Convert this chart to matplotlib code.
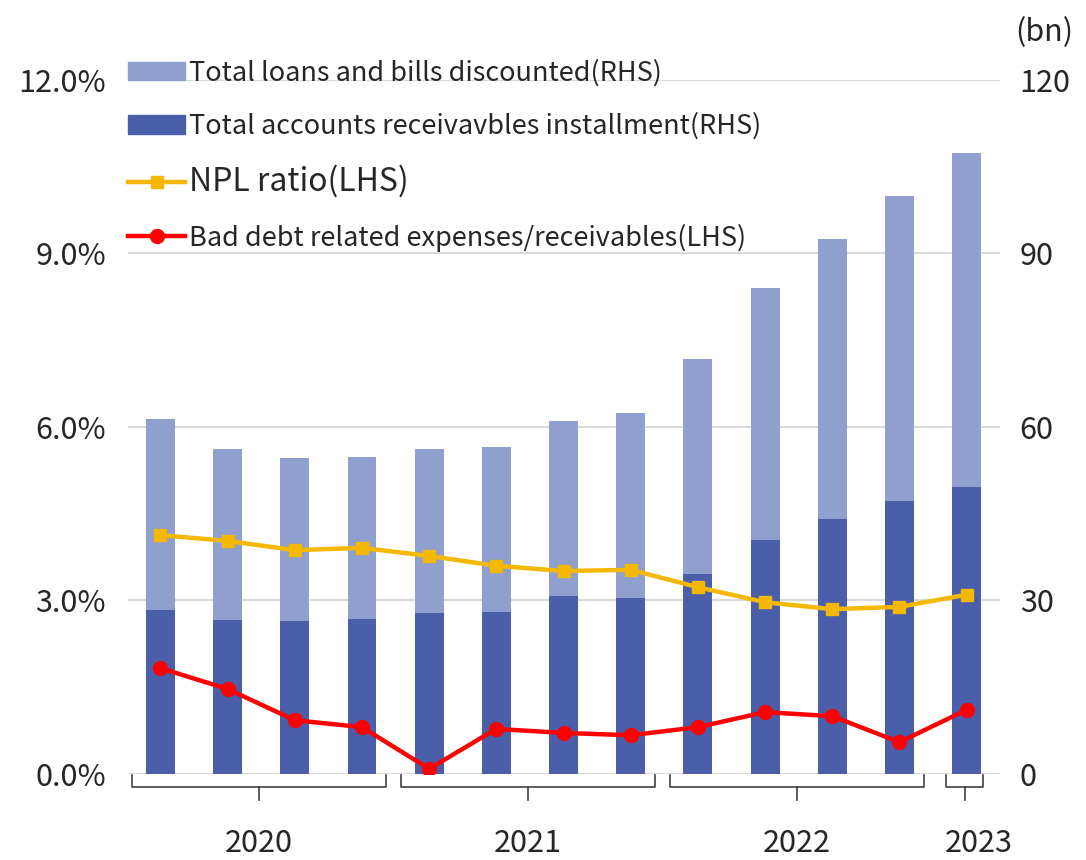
import matplotlib
matplotlib.use("Agg")
import matplotlib.pyplot as plt
import matplotlib.transforms as mtransforms
from matplotlib.patches import Patch
from matplotlib.lines import Line2D
import numpy as np

plt.rcParams['font.family'] = ['Noto Sans CJK JP', 'DejaVu Sans']

### data (13 quarters, 2020Q1 - 2023Q1)
years = ['2020', '2021', '2022', '2023']
year_counts = [4, 4, 4, 1]
installment = [28.4, 26.6, 26.5, 26.8, 27.8, 28.0, 30.8, 30.4, 34.6, 40.5, 44.1, 47.2, 49.6]
total_loans = [61.4, 56.2, 54.6, 54.8, 56.2, 56.5, 61.0, 62.4, 71.8, 84.0, 92.5, 99.9, 107.4]
npl_ratio = [4.13, 4.03, 3.87, 3.91, 3.77, 3.60, 3.51, 3.53, 3.23, 2.97, 2.85, 2.89, 3.10]
bad_debt = [1.83, 1.47, 0.93, 0.81, 0.09, 0.78, 0.71, 0.67, 0.81, 1.07, 1.00, 0.55, 1.11]

labels = ['Total loans and bills discounted(RHS)',
          'Total accounts receivavbles installment(RHS)',
          'NPL ratio(LHS)',
          'Bad debt related expenses/receivables(LHS)']

LIGHT = '#8f9fce'
DARK = '#4a5eaa'
YELLOW = '#f5b800'
RED = '#ff0000'
TXT = '#262626'

x = np.arange(len(installment))
loans_top = np.array(total_loans) - np.array(installment)

fig = plt.figure(figsize=(10.86, 8.6), dpi=100)
ax2 = fig.add_axes([0.118, 0.1, 0.803, 0.807])   # bars, right axis
ax = fig.add_axes([0.118, 0.1, 0.803, 0.807], sharex=ax2)  # lines, left axis
ax.patch.set_visible(False)

# bars on the right axis
ax2.bar(x, installment, width=0.43, color=DARK, zorder=2)
ax2.bar(x, loans_top, bottom=installment, width=0.43, color=LIGHT, zorder=2)
ax2.set_ylim(0, 120)
ax2.set_yticks([0, 30, 60, 90, 120])
ax2.yaxis.tick_right()
ax2.tick_params(axis='y', length=0, pad=14, labelsize=22, labelcolor=TXT)
for lab in ax2.get_yticklabels():
    lab.set_horizontalalignment('left')
ax2.grid(axis='y', color='#d9d9d9', linewidth=1.5, zorder=0)
ax2.set_axisbelow(True)
ax2.set_xlim(-0.48, 12.5)
ax2.set_xticks([])
for s in ax2.spines.values():
    s.set_visible(False)

# lines on the left axis
ax.plot(x, npl_ratio, color=YELLOW, linewidth=3.2, marker='s', markersize=9, zorder=3)
ax.plot(x, bad_debt, color=RED, linewidth=3.2, marker='o', markersize=10, zorder=4)
ax.set_ylim(0, 12)
ax.set_yticks([0, 3, 6, 9, 12])
ax.set_yticklabels(['0.0%', '3.0%', '6.0%', '9.0%', '12.0%'])
ax.tick_params(axis='y', length=0, pad=16, labelsize=22, labelcolor=TXT)
ax.tick_params(axis='x', length=0, labelbottom=False)
for s in ax.spines.values():
    s.set_visible(False)

ax2.text(1.017, 1.068, '(bn)', transform=ax2.transAxes, fontsize=22,
         color=TXT, ha='left', va='center')

# year brackets under the axis
trans = mtransforms.blended_transform_factory(ax2.transData, ax2.transAxes)
start = 0
for yr, n in zip(years, year_counts):
    if n > 1:
        x0, x1 = start - 0.42, start + n - 1 + 0.36
    else:
        x0, x1 = start - 0.3, start + 0.25
    mid = (x0 + x1) / 2
    ax2.plot([x0, x0, x1, x1], [-0.002, -0.019, -0.019, -0.002], color='#404040',
             linewidth=1.2, transform=trans, clip_on=False)
    ax2.plot([mid, mid], [-0.019, -0.037], color='#404040', linewidth=1.2,
             transform=trans, clip_on=False)
    xt = mid if n > 1 else mid + 0.2
    ax2.text(xt, -0.1, yr, transform=trans, ha='center', va='center',
             fontsize=22, color=TXT)
    start += n

# legend
handles = [Patch(color=LIGHT), Patch(color=DARK),
           Line2D([], [], color=YELLOW, linewidth=3.2, marker='s', markersize=9),
           Line2D([], [], color=RED, linewidth=3.2, marker='o', markersize=10)]
leg = ax.legend(handles, labels, loc='upper left', bbox_to_anchor=(0.0, 1.03),
                frameon=False, fontsize=19.5, handlelength=2.1, handletextpad=0.15,
                labelspacing=0.95, borderaxespad=0, borderpad=0)
for t in leg.get_texts():
    t.set_color(TXT)
leg.get_texts()[2].set_fontsize(23)

plt.savefig('out.png', dpi=100)
